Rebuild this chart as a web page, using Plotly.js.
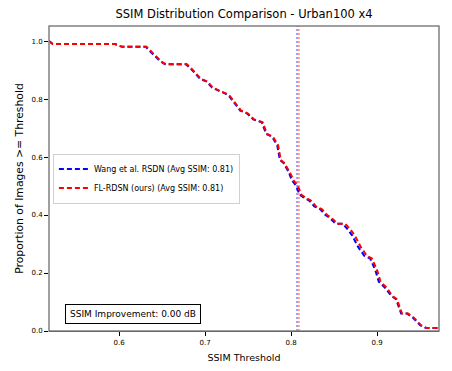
<!DOCTYPE html>
<html>
<head>
<meta charset="utf-8">
<script src="https://cdn.plot.ly/plotly-3.0.1.min.js"></script>
<style>html,body{margin:0;padding:0;background:#fff;}#chart{width:452px;height:371px;}</style>
</head>
<body>
<div id="chart"></div>
<script>
// SSIM thresholds and proportions
var wangX = [0.5186,0.523,0.5953,0.6035,0.631,0.636,0.648,0.6535,0.678,0.685,0.694,0.702,0.708,0.715,0.723,0.728,0.736,0.741,0.749,0.756,0.766,0.771,0.778,0.784,0.787,0.791,0.797,0.801,0.806,0.810,0.815,0.821,0.827,0.834,0.840,0.845,0.852,0.860,0.866,0.871,0.878,0.885,0.892,0.898,0.902,0.909,0.917,0.922,0.928,0.935,0.942,0.950,0.957,0.972];
var wangY = [1.00,0.99,0.99,0.98,0.98,0.965,0.93,0.92,0.92,0.90,0.87,0.86,0.84,0.83,0.82,0.81,0.78,0.76,0.75,0.73,0.72,0.68,0.67,0.64,0.59,0.58,0.55,0.52,0.50,0.47,0.46,0.45,0.43,0.42,0.40,0.39,0.37,0.37,0.35,0.33,0.29,0.26,0.25,0.21,0.17,0.15,0.12,0.11,0.06,0.06,0.045,0.02,0.01,0.01];
var flX = [0.5186,0.523,0.5953,0.6035,0.632,0.637,0.649,0.6545,0.679,0.686,0.695,0.703,0.709,0.716,0.724,0.729,0.737,0.742,0.750,0.757,0.767,0.772,0.779,0.785,0.788,0.792,0.798,0.803,0.808,0.812,0.817,0.823,0.829,0.836,0.842,0.847,0.854,0.863,0.869,0.874,0.881,0.888,0.894,0.900,0.904,0.911,0.918,0.923,0.929,0.936,0.943,0.951,0.958,0.972];
var flY = [1.00,0.99,0.99,0.98,0.98,0.965,0.93,0.92,0.92,0.90,0.87,0.86,0.84,0.83,0.82,0.81,0.78,0.76,0.75,0.73,0.72,0.68,0.67,0.64,0.59,0.58,0.55,0.52,0.50,0.47,0.46,0.45,0.43,0.42,0.40,0.39,0.37,0.37,0.35,0.33,0.29,0.26,0.25,0.21,0.17,0.15,0.12,0.11,0.06,0.06,0.045,0.02,0.01,0.01];
var avgWang = 0.807;
var avgFL = 0.809;
var seriesNames = ['Wang et al. RSDN (Avg SSIM: 0.81)', 'FL-RDSN (ours) (Avg SSIM: 0.81)'];
var yTicks = [0.0,0.2,0.4,0.6,0.8,1.0];
var yTickText = ['0.0','0.2','0.4','0.6','0.8','1.0'];
var xTicks = [0.6,0.7,0.8,0.9];
var xTickText = ['0.6','0.7','0.8','0.9'];
var improvementText = 'SSIM Improvement: 0.00 dB';

var F = 'DejaVu Sans, sans-serif';
var traces = [
  {x:[avgWang,avgWang], y:[0,1.052], mode:'lines', showlegend:false, hoverinfo:'skip',
   line:{color:'rgba(80,80,255,0.55)', width:2, dash:'2px,2px'}},
  {x:[avgFL,avgFL], y:[0,1.052], mode:'lines', showlegend:false, hoverinfo:'skip',
   line:{color:'rgba(255,80,80,0.55)', width:2, dash:'2px,2px'}},
  {x:wangX, y:wangY, mode:'lines', name:seriesNames[0],
   line:{color:'#0000ff', width:2, dash:'5px,3px', shape:'linear'}},
  {x:flX, y:flY, mode:'lines', name:seriesNames[1],
   line:{color:'#ff0000', width:2, dash:'5px,3px', shape:'linear'}}
];
var layout = {
  width:452, height:371,
  margin:{l:49, r:13, t:26, b:40},
  paper_bgcolor:'#fff', plot_bgcolor:'#fff',
  font:{family:F, color:'#000'},
  title:{text:'SSIM Distribution Comparison - Urban100 x4', x:0.54, xanchor:'center', y:0.963, yanchor:'middle', font:{size:11.5, family:F}},
  xaxis:{range:[0.5186,0.972], tickvals:xTicks, ticktext:xTickText, ticks:'outside', ticklen:4, tickcolor:'#000',
    tickfont:{size:7, family:F}, showgrid:false, zeroline:false, showline:true, linecolor:'#222', linewidth:1.2,
    title:{text:'SSIM Threshold', font:{size:9.5, family:F}, standoff:8}},
  yaxis:{range:[0,1.052], tickvals:yTicks, ticktext:yTickText, ticks:'outside', ticklen:4, tickcolor:'#000',
    tickfont:{size:7, family:F}, showgrid:false, zeroline:false, showline:false,
    title:{text:'Proportion of Images >= Threshold', font:{size:10.8, family:F}, standoff:5}},
  shapes:[{type:'rect', xref:'paper', yref:'paper', x0:0, x1:1, y0:0, y1:1, line:{color:'#808080', width:1.5}}],
  legend:{x:0.01, y:0.5, xanchor:'left', yanchor:'middle', bgcolor:'rgba(255,255,255,0.9)', bordercolor:'#d0d0d0', borderwidth:1,
    font:{size:8, family:F}, tracegroupgap:0, itemwidth:30},
  annotations:[{text:improvementText, xref:'paper', yref:'paper', x:0.042, y:0.055, xanchor:'left', yanchor:'middle', showarrow:false,
    font:{size:9, family:F}, bgcolor:'#fff', bordercolor:'#000', borderwidth:1, borderpad:4}]
};
Plotly.newPlot('chart', traces, layout, {displayModeBar:false, staticPlot:true});
</script>
</body>
</html>
